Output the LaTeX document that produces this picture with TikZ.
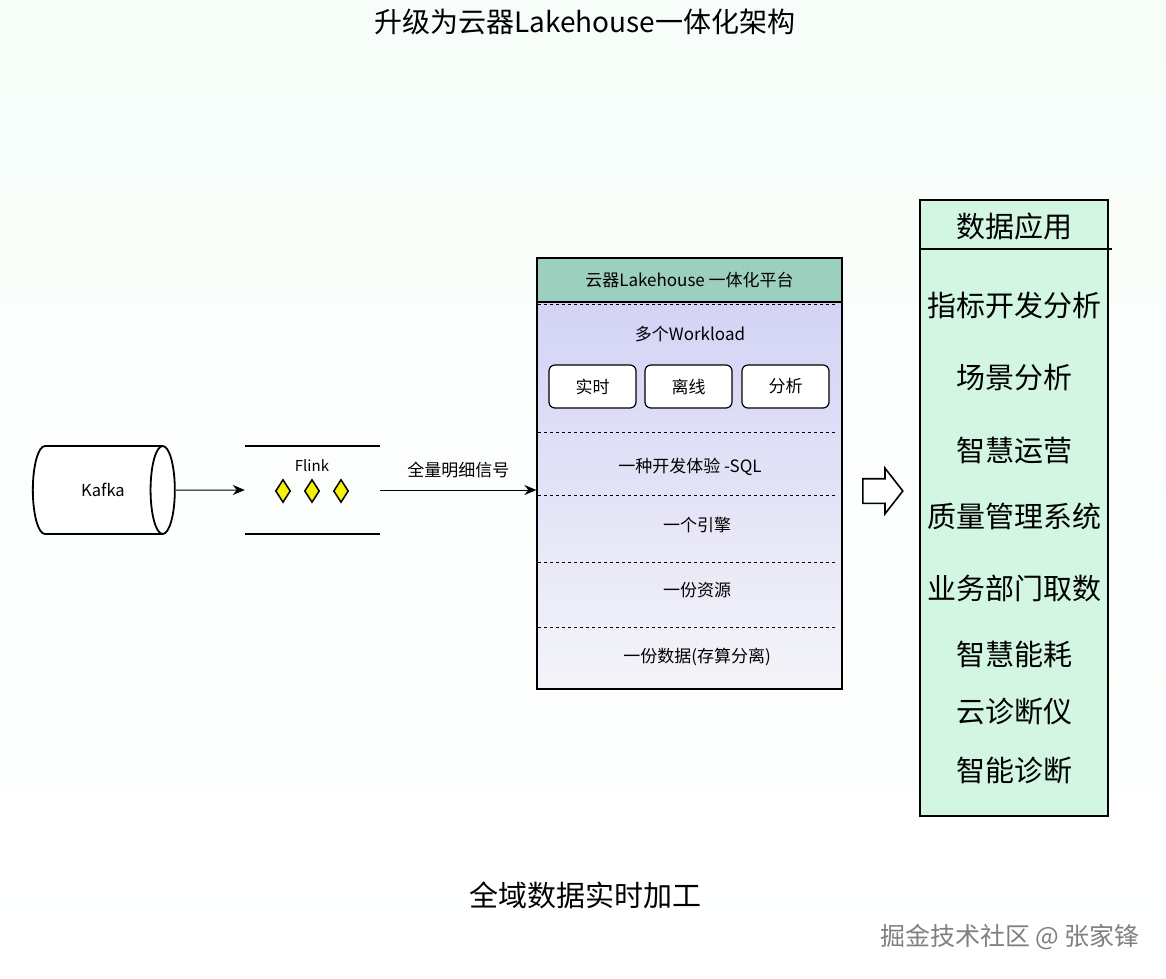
\documentclass[tikz,border=0pt]{standalone}
\usepackage{fontspec}
\setmainfont{Noto Sans CJK SC}
\usetikzlibrary{positioning}
\usetikzlibrary{shapes.geometric}
\usetikzlibrary{shapes.arrows}
\usetikzlibrary{arrows.meta}

\definecolor{bgtop}{HTML}{F7FEFA}
\definecolor{bgmid}{HTML}{E0FAEC}
\definecolor{bgbot}{HTML}{FFFFFF}
\definecolor{headteal}{HTML}{9DCFBE}
\definecolor{lavtop}{HTML}{D3D3F6}
\definecolor{lavbot}{HTML}{F4F4F8}
\definecolor{appmint}{HTML}{D3F6E3}
\definecolor{gemyellow}{HTML}{F2F20A}

\tikzset{
  plain/.style={font=\fontsize{17}{20}\selectfont, inner sep=0pt},
  apptext/.style={font=\fontsize{29}{33}\selectfont, inner sep=0pt},
  modebox/.style={draw, line width=1.2pt, fill=white, rounded corners=6pt,
    minimum width=87pt, minimum height=43pt, font=\fontsize{17}{20}\selectfont},
  gem/.style={diamond, draw, line width=1.5pt, fill=gemyellow,
    minimum width=15pt, minimum height=23pt, inner sep=0pt},
  layer/.style={dashed, line width=0.9pt},
  flow/.style={-{Stealth[length=12pt,width=10pt]}, line width=1pt},
}

\begin{document}
\begin{tikzpicture}[x=1pt,y=-1pt]
\useasboundingbox (0,0) rectangle (1166,978);
\shade[top color=bgtop, middle color=bgmid, bottom color=bgbot] (0,0) rectangle (1166,978);

\node (title) at (585,22) [font=\fontsize{28}{33}\selectfont] {升级为云器Lakehouse一体化架构};

% source side
\node (kafka) at (95,490) [cylinder, draw, line width=1.8pt, fill=white, aspect=1.2,
  minimum width=88pt, minimum height=142pt, font=\fontsize{16.5}{19}\selectfont] {\hspace*{16pt}Kafka};
\node (flink) at (312.5,490) [minimum width=135pt, minimum height=88pt, inner sep=0pt] {};
\draw[line width=2.4pt] (flink.north west) -- (flink.north east);
\draw[line width=2.4pt] (flink.south west) -- (flink.south east);
\node (flinklabel) at (312,466) [font=\fontsize{15}{18}\selectfont, inner sep=0pt] {Flink};
\node (gem1) at (283,491) [gem] {};
\node (gem2) at (312,491) [gem] {};
\node (gem3) at (341,491) [gem] {};

% platform
\node (body) at (689.5,495.5) [draw, line width=1.2pt, top color=lavtop, bottom color=lavbot,
  minimum width=305pt, minimum height=387pt] {};
\node (head) at (689.5,280) [draw, line width=1.2pt, fill=headteal, minimum width=305pt,
  minimum height=44pt, inner sep=0pt, font=\fontsize{17}{20}\selectfont] {云器Lakehouse 一体化平台};
\foreach \y in {304,432,495,562,627}
  \draw[layer] (538,\y) -- (836,\y);
\node (workload) at (690,334) [plain] {多个Workload};
\node (realtime) at (592.5,386.5) [modebox] {实时};
\node (offline) at (688.5,386.5) [modebox] {离线};
\node (analysis) at (785.5,386.5) [modebox] {分析};
\node (sql) at (690,467) [plain] {一种开发体验 -SQL};
\node (engine) at (697,525) [plain] {一个引擎};
\node (resource) at (697,590) [plain] {一份资源};
\node (storage) at (697,657) [plain] {一份数据(存算分离)};

\draw[flow] (kafka.east) -- (flink.west);
\draw[flow] (flink.east) -- (flink.east -| body.west)
  node[midway, above=12pt, plain] (signal) {全量明细信号};

\node (push) at (878,491) [single arrow, draw, line width=1.6pt, fill=white,
  minimum height=40pt, inner xsep=0pt, inner ysep=11.5pt, single arrow head extend=10.5pt,
  single arrow tip angle=104] {};

% applications
\node (apps) at (1014,508) [draw, line width=1.3pt, fill=appmint,
  minimum width=188pt, minimum height=616pt] {};
\draw[line width=1.2pt] (920,249) -- (1112,249);
\node (appshead) at (1014,226) [apptext] {数据应用};
\foreach \t/\y in {指标开发分析/305, 场景分析/378, 智慧运营/450, 质量管理系统/516,
  业务部门取数/588, 智慧能耗/654, 云诊断仪/712, 智能诊断/770}
  \node (app\y) at (1014,\y) [apptext] {\t};

\node (caption) at (585,895) [font=\fontsize{29}{33}\selectfont] {全域数据实时加工};
\node (mark) at (1010,937) [font=\fontsize{25}{29}\selectfont, text=black!50] {掘金技术社区 @ 张家锋};
\end{tikzpicture}
\end{document}
